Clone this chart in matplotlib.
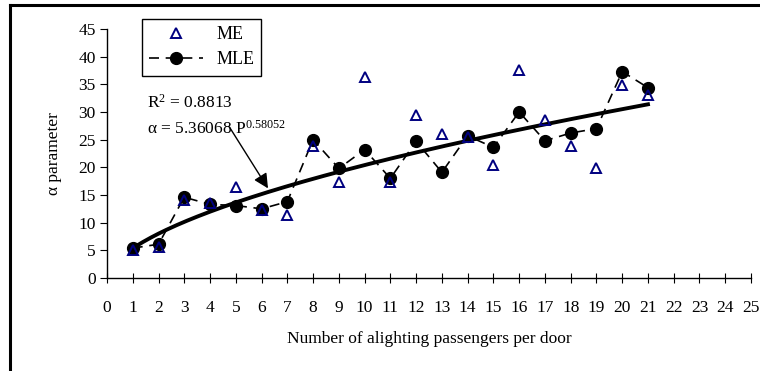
import numpy as np
import matplotlib.pyplot as plt
from matplotlib.lines import Line2D

plt.rcParams["font.family"] = ["Liberation Serif", "DejaVu Serif"]
plt.rcParams["mathtext.fontset"] = "custom"
plt.rcParams["mathtext.rm"] = "Liberation Serif"
plt.rcParams["mathtext.it"] = "Liberation Serif:italic"

# passengers per door
doors = [1, 2, 3, 4, 5, 6, 7, 8, 9, 10, 11, 12, 13, 14, 15, 16, 17, 18, 19, 20, 21]
me_alpha = [5.0, 5.6, 14.1, 13.5, 16.4, 12.3, 11.4, 23.9, 17.3, 36.3, 17.3, 29.4,
            26.0, 25.5, 20.5, 37.5, 28.5, 23.8, 19.9, 34.9, 33.1]
mle_alpha = [5.4, 6.1, 14.6, 13.3, 13.1, 12.5, 13.8, 25.0, 19.8, 23.2, 18.0, 24.7,
             19.1, 25.7, 23.6, 30.0, 24.8, 26.2, 27.0, 37.3, 34.4]
fit_a = 5.36068
fit_b = 0.58052
r2 = 0.8813

W, H = 760, 371
fig = plt.figure(figsize=(W / 100, H / 100), dpi=100)

# frame of the original (cropped on right/bottom)
fig.add_artist(Line2D([10 / W, 1.0], [1 - 5 / H, 1 - 5 / H], color="black", lw=2.2,
                      transform=fig.transFigure))
fig.add_artist(Line2D([10 / W, 10 / W], [0.0, 1 - 5 / H], color="black", lw=2.2,
                      transform=fig.transFigure))

ax = fig.add_axes([107 / W, 1 - 278 / H, (751 - 107) / W, (278 - 29) / H])

xf = np.linspace(doors[0], doors[-1], 200)
yf = fit_a * xf ** fit_b
ax.plot(xf, yf, color="black", lw=2.8, zorder=2)

ax.plot(doors, mle_alpha, color="black", ls=(0, (6, 4)), lw=1.2, marker="o",
        markersize=8.5, markerfacecolor="black", zorder=3, label="MLE")
ax.plot(doors, me_alpha, ls="none", marker="^", markersize=7, markerfacecolor="none",
        markeredgecolor="#000080", markeredgewidth=1.4, zorder=4, label="ME")

ax.set_xlim(0, 25)
ax.set_ylim(0, 45)
ax.set_xticks(range(0, 26))
ax.set_yticks(range(0, 46, 5))
for s in ["top", "right"]:
    ax.spines[s].set_visible(False)
ax.spines["left"].set_linewidth(1.0)
ax.spines["bottom"].set_linewidth(1.0)
ax.tick_params(axis="x", direction="inout", length=7, pad=12, labelsize=12.5)
ax.tick_params(axis="y", direction="out", length=5, pad=3, labelsize=12.5)

ax.set_xlabel("Number of alighting passengers per door", fontsize=12.5, labelpad=11)
ax.set_ylabel("α parameter", fontsize=12.5)
ax.yaxis.set_label_coords(-0.07, 0.5)

ax.text(1.55, 31.6, f"R$^2$ = {r2}", fontsize=12.5, va="center")
ax.text(1.55, 27.0, "α = 5.36068 P$^{0.58052}$", fontsize=12.5, va="center")
ax.annotate("", xy=(6.25, 16.2), xytext=(4.75, 27.3),
            arrowprops=dict(arrowstyle="-|>", color="black", lw=1.0,
                            mutation_scale=22, shrinkA=0, shrinkB=0))

handles = [
    Line2D([], [], ls="none", marker="^", markersize=7, markerfacecolor="none",
           markeredgecolor="#000080", markeredgewidth=1.4),
    Line2D([], [], color="black", ls=(0, (6, 4)), lw=1.2, marker="o", markersize=8.5),
]
leg = fig.legend(handles, ["ME", "MLE"], loc="upper left",
                 bbox_to_anchor=(142 / W, 1 - 19 / H), fontsize=13,
                 frameon=True, fancybox=False, edgecolor="black", framealpha=1,
                 borderpad=0.4, handlelength=3.0, handletextpad=0.7,
                 labelspacing=0.45, borderaxespad=0)
leg.get_frame().set_linewidth(1.0)

fig.savefig("out.png", dpi=100)
